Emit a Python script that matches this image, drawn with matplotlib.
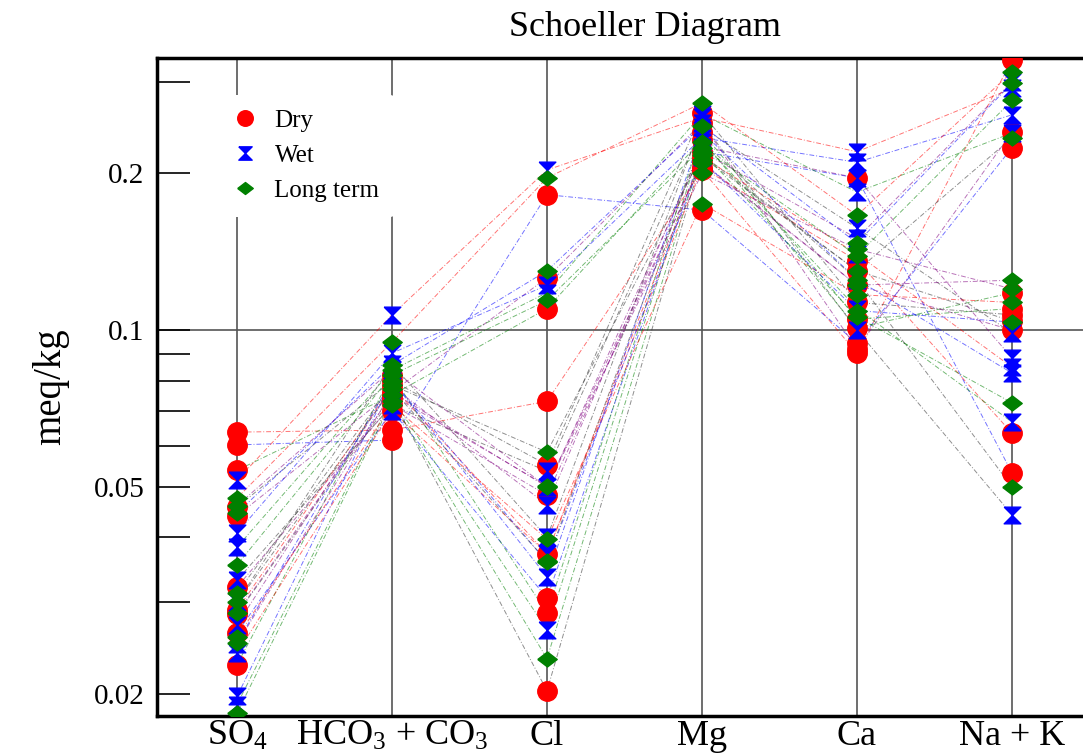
import numpy as np
import matplotlib
matplotlib.use("Agg")
import matplotlib.pyplot as plt
from matplotlib.lines import Line2D

plt.rcParams['font.family'] = ['Liberation Serif', 'DejaVu Serif']
plt.rcParams['mathtext.fontset'] = 'custom'
plt.rcParams['mathtext.rm'] = 'Liberation Serif'
plt.rcParams['mathtext.it'] = 'Liberation Serif'

ions = ["SO$_4$", "HCO$_3$ + CO$_3$", "Cl", "Mg", "Ca", "Na + K"]

# each row is one sample: SO4, HCO3+CO3, Cl, Mg, Ca, Na+K  (meq/kg)
dry = [
    [0.0637, 0.0643, 0.073, 0.203, 0.0903, 0.330],
    [0.0602, 0.0615, 0.182, 0.170, 0.0944, 0.224],
    [0.0538, 0.075, 0.110, 0.232, 0.101, 0.118],
    [0.0457, 0.080, 0.0551, 0.261, 0.113, 0.107],
    [0.0321, 0.072, 0.0482, 0.210, 0.122, 0.100],
    [0.0290, 0.078, 0.0372, 0.205, 0.136, 0.0634],
    [0.0262, 0.070, 0.0306, 0.220, 0.196, 0.0532],
    [0.0228, 0.082, 0.0286, 0.240, 0.105, 0.110],
    [0.0285, 0.074, 0.0203, 0.215, 0.130, 0.104],
    [0.0440, 0.076, 0.126, 0.250, 0.092, 0.240],
]

wet = [
    [0.0515, 0.107, 0.203, 0.256, 0.220, 0.291],
    [0.0408, 0.0903, 0.122, 0.234, 0.210, 0.259],
    [0.0383, 0.0838, 0.118, 0.260, 0.184, 0.239],
    [0.0331, 0.0718, 0.0536, 0.245, 0.157, 0.0987],
    [0.0272, 0.078, 0.0462, 0.225, 0.196, 0.0884],
    [0.0240, 0.070, 0.0372, 0.215, 0.140, 0.0849],
    [0.0198, 0.080, 0.0336, 0.240, 0.125, 0.0827],
    [0.0191, 0.074, 0.0266, 0.230, 0.110, 0.0666],
    [0.0300, 0.086, 0.0400, 0.250, 0.100, 0.0442],
    [0.0250, 0.076, 0.0500, 0.220, 0.150, 0.300],
]

long_term = [
    [0.0476, 0.0948, 0.196, 0.273, 0.166, 0.313],
    [0.0445, 0.0857, 0.130, 0.247, 0.147, 0.298],
    [0.0354, 0.082, 0.114, 0.224, 0.139, 0.276],
    [0.0313, 0.0784, 0.0583, 0.217, 0.130, 0.234],
    [0.0286, 0.075, 0.0502, 0.209, 0.122, 0.1247],
    [0.0257, 0.0718, 0.0397, 0.175, 0.117, 0.113],
    [0.0251, 0.080, 0.0359, 0.212, 0.109, 0.1036],
    [0.0184, 0.073, 0.0234, 0.220, 0.106, 0.0725],
    [0.0300, 0.077, 0.0360, 0.230, 0.125, 0.050],
    [0.0460, 0.084, 0.0500, 0.200, 0.143, 0.120],
]

line_colors = ["red", "blue", "green", "#333333", "purple"]

hourglass = [(-1, 1), (1, 1), (0, 0), (1, -1), (-1, -1), (0, 0), (-1, 1)]
wide_diamond = [(-1.3, 0), (0, 1), (1.3, 0), (0, -1), (-1.3, 0)]

fig = plt.figure(figsize=(10.83, 7.54), dpi=100)
ax = fig.add_axes([157 / 1083, 1 - 716 / 754, (1105 - 157) / 1083, (716 - 58) / 754])

x = np.arange(len(ions))
ax.set_yscale("log")
ax.set_ylim(0.01816, 0.333)
ax.set_xlim(-0.516, 5.6)

for xi in x:
    ax.axvline(xi, color="#555555", lw=1.2, zorder=1)
ax.axhline(0.1, color="#555555", lw=1.2, zorder=1)

groups = [
    (dry, "o", "red", 14, "Dry"),
    (wet, hourglass, "blue", 12, "Wet"),
    (long_term, wide_diamond, "green", 14, "Long term"),
]

k = 0
for data, mk, col, ms, name in groups:
    for row in data:
        ax.plot(x, row, ls=(0, (5, 2, 1, 2)), lw=0.7, color=line_colors[k % len(line_colors)],
                alpha=0.55, zorder=2)
        k += 1
z = 3
for data, mk, col, ms, name in groups:
    for row in data:
        ax.plot(x, row, ls="none", marker=mk, color=col, ms=ms, mec=col, zorder=z)
    z += 1

ax.set_xticks(x)
ax.set_xticklabels(ions, fontsize=26)
ax.tick_params(axis="x", length=0, pad=3)

ax.set_yticks([0.02, 0.05, 0.1, 0.2])
ax.set_yticklabels(["0.02", "0.05", "0.1", "0.2"], fontsize=21)
ax.set_yticks([0.03, 0.04, 0.06, 0.07, 0.08, 0.09, 0.3], minor=True)
ax.yaxis.set_minor_formatter(plt.NullFormatter())
ax.tick_params(axis="y", which="both", direction="in", length=24, width=1.2, pad=9)

for s in ["left", "top", "bottom"]:
    ax.spines[s].set_linewidth(2.5)
ax.spines["right"].set_visible(False)

ax.set_ylabel("meq/kg", fontsize=28, labelpad=18)
fig.text(645 / 1083, 1 - 28 / 754, "Schoeller Diagram", fontsize=26, ha="center", va="center")

handles = [Line2D([], [], ls="none", marker=mk, color=col, ms=ms * 0.8, mec=col)
           for data, mk, col, ms, name in groups]
leg = ax.legend(handles, [g[4] for g in groups], loc="upper left",
                bbox_to_anchor=(202 / 1083, 1 - 82 / 754), bbox_transform=fig.transFigure,
                fontsize=18, frameon=True, facecolor="white", edgecolor="none", framealpha=1,
                handlelength=1.2, handletextpad=0.6, labelspacing=0.5, borderpad=0.6)
leg.set_zorder(10)

fig.savefig("out.png", dpi=100)
